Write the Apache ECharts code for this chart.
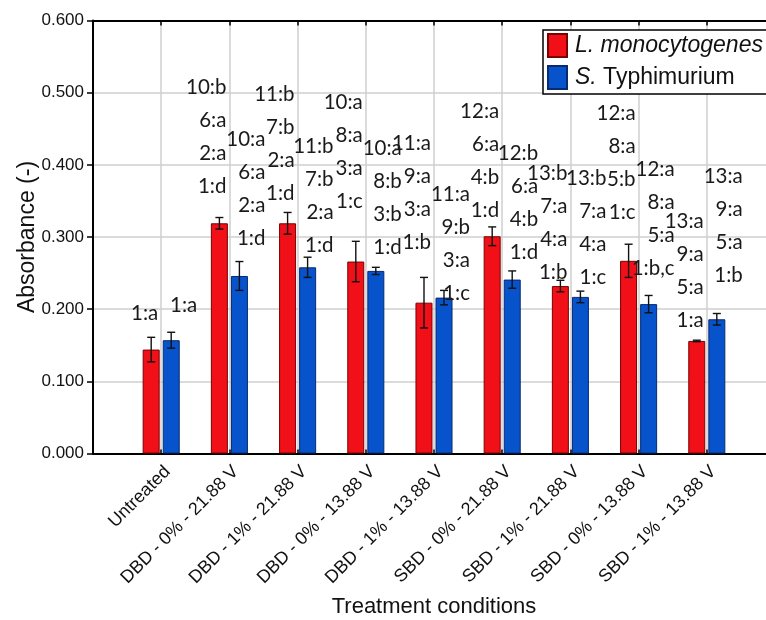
<!DOCTYPE html>
<html><head><meta charset="utf-8">
<script src="https://cdn.jsdelivr.net/npm/echarts@6.0.0/dist/echarts.min.js"></script>
<style>html,body{margin:0;padding:0;background:#fff}#c{width:766px;height:620px}</style>
</head><body><div id="c"></div>
<script>
// ---- data ----
const categories = ['Untreated', 'DBD - 0% - 21.88 V', 'DBD - 1% - 21.88 V', 'DBD - 0% - 13.88 V', 'DBD - 1% - 13.88 V',
  'SBD - 0% - 21.88 V', 'SBD - 1% - 21.88 V', 'SBD - 0% - 13.88 V', 'SBD - 1% - 13.88 V'];
const seriesNames = ['L. monocytogenes', 'S. Typhimurium'];
const listeria = [0.144, 0.319, 0.319, 0.266, 0.209, 0.301, 0.232, 0.267, 0.156];
const listeriaErr = [0.017, 0.008, 0.015, 0.028, 0.035, 0.013, 0.008, 0.023, 0.001];
const salmonella = [0.157, 0.246, 0.258, 0.253, 0.216, 0.241, 0.217, 0.207, 0.186];
const salmonellaErr = [0.011, 0.020, 0.014, 0.005, 0.010, 0.012, 0.008, 0.012, 0.008];
const listeriaLetters = ['1:a', '10:b\n6:a\n2:a\n1:d', '11:b\n7:b\n2:a\n1:d', '10:a\n8:a\n3:a\n1:c', '11:a\n9:a\n3:a\n1:b',
  '12:a\n6:a\n4:b\n1:d', '13:b\n7:a\n4:a\n1:b', '12:a\n8:a\n5:b\n1:c', '13:a\n9:a\n5:a\n1:a'];
const salmonellaLetters = ['1:a', '10:a\n6:a\n2:a\n1:d', '11:b\n7:b\n2:a\n1:d', '10:a\n8:b\n3:b\n1:d', '11:a\n9:b\n3:a\n1:c',
  '12:b\n6:a\n4:b\n1:d', '13:b\n7:a\n4:a\n1:c', '12:a\n8:a\n5:a\n1:b,c', '13:a\n9:a\n5:a\n1:b'];
// value level (y) of the lowest letter line of each annotation stack
const listeriaLetterLevel = [0.194, 0.370, 0.361, 0.350, 0.292, 0.337, 0.251, 0.334, 0.184];
const salmonellaLetterLevel = [0.205, 0.298, 0.288, 0.285, 0.222, 0.278, 0.244, 0.256, 0.247];
const yTicks = [0, 0.1, 0.2, 0.3, 0.4, 0.5, 0.6];

// ---- build ----
const RED = '#f10f18', BLUE = '#0653cb';
const AX = 'Liberation Sans, Arial, sans-serif';
const pos = categories.map((c, i) => i + 1);

function errSeries(vals, errs, dx) {
  return {
    type: 'custom', xAxisIndex: 0, yAxisIndex: 0, z: 5, silent: true,
    data: vals.map((v, i) => [pos[i], v - errs[i], v + errs[i]]),
    renderItem(params, api) {
      const lo = api.coord([api.value(0), api.value(1)]);
      const hi = api.coord([api.value(0), api.value(2)]);
      const cx = lo[0] + dx, hw = 4;
      const st = { stroke: '#111', lineWidth: 1.4 };
      return { type: 'group', children: [
        { type: 'line', shape: { x1: cx, y1: lo[1], x2: cx, y2: hi[1] }, style: st },
        { type: 'line', shape: { x1: cx - hw, y1: lo[1], x2: cx + hw, y2: lo[1] }, style: st },
        { type: 'line', shape: { x1: cx - hw, y1: hi[1], x2: cx + hw, y2: hi[1] }, style: st }
      ]};
    }
  };
}
function letterSeries(levels, texts, dx) {
  return {
    type: 'custom', xAxisIndex: 0, yAxisIndex: 0, z: 6, silent: true, clip: false,
    data: levels.map((v, i) => [pos[i], v]),
    renderItem(params, api) {
      const p = api.coord([api.value(0), api.value(1)]);
      return { type: 'text', x: p[0] + dx, y: p[1] + 16.5, style: {
        text: texts[params.dataIndex], align: 'right', verticalAlign: 'bottom',
        font: '20.5px Lato', lineHeight: 33, fill: '#1a1a1a' } };
    }
  };
}

const chart = echarts.init(document.getElementById('c'), null, { renderer: 'canvas' });
chart.setOption({
  animation: false,
  backgroundColor: '#fff',
  grid: { left: 93, top: 20.5, width: 682, height: 433, containLabel: false, outerBoundsMode: 'none' },
  legend: {
    data: seriesNames, left: 543, top: 30, orient: 'vertical', icon: 'rect',
    itemWidth: 19, itemHeight: 23, itemGap: 7, padding: [3, 20, 4, 4],
    borderColor: '#000', borderWidth: 1.5, backgroundColor: '#fff', z: 10,
    formatter: n => n === seriesNames[0] ? '{i|' + n + '}' : '{i|S.} Typhimurium',
    textStyle: { fontFamily: AX, fontSize: 23, color: '#111', padding: [0, 0, 0, 3],
      rich: { i: { fontStyle: 'italic', fontFamily: AX, fontSize: 23, color: '#111' } } }
  },
  xAxis: [{
    type: 'value', min: 0, max: 10, interval: 1, position: 'bottom',
    axisLine: { show: true, lineStyle: { color: '#000', width: 2 } },
    axisTick: { show: true, inside: true, length: 4, lineStyle: { color: '#000', width: 1.5 } },
    splitLine: { show: true, lineStyle: { color: '#cfcfcf', width: 1.5 } },
    axisLabel: { rotate: 45, margin: 9, verticalAlign: 'top', fontFamily: AX, fontSize: 18, color: '#111',
      formatter: v => (v >= 1 && v <= categories.length) ? categories[v - 1] : '' },
    name: 'Treatment conditions', nameLocation: 'middle', nameGap: 142, nameMoveOverlap: false,
    nameTextStyle: { fontFamily: AX, fontSize: 22, color: '#111' }
  }, {
    type: 'value', min: 0, max: 10, interval: 1, position: 'top',
    axisLine: { show: true, lineStyle: { color: '#000', width: 2 } },
    axisTick: { show: true, inside: true, length: 5, lineStyle: { color: '#000', width: 1.5 } },
    splitLine: { show: false }, axisLabel: { show: false }
  }],
  yAxis: {
    type: 'value', min: yTicks[0], max: yTicks[yTicks.length - 1], interval: 0.1,
    axisLine: { show: true, lineStyle: { color: '#000', width: 2 } },
    axisTick: { show: true, inside: false, length: 6, lineStyle: { color: '#000', width: 1.5 } },
    splitLine: { show: true, lineStyle: { color: '#cfcfcf', width: 1.5 } },
    axisLabel: { margin: 9, fontFamily: AX, fontSize: 17, color: '#111', formatter: v => v.toFixed(3) },
    name: 'Absorbance (-)', nameLocation: 'middle', nameGap: 54, nameMoveOverlap: false,
    nameTextStyle: { fontFamily: AX, fontSize: 23, color: '#111' }
  },
  series: [
    { name: seriesNames[0], type: 'bar', xAxisIndex: 0, barWidth: 17, barGap: '18%',
      itemStyle: { color: RED, borderColor: '#7a0000', borderWidth: 1 },
      data: listeria.map((v, i) => [pos[i], v]) },
    { name: seriesNames[1], type: 'bar', xAxisIndex: 0, barWidth: 17, barGap: '18%',
      itemStyle: { color: BLUE, borderColor: '#0a2a70', borderWidth: 1 },
      data: salmonella.map((v, i) => [pos[i], v]) },
    errSeries(listeria, listeriaErr, -10),
    errSeries(salmonella, salmonellaErr, 10),
    letterSeries(listeriaLetterLevel, listeriaLetters, -3),
    letterSeries(salmonellaLetterLevel, salmonellaLetters, 36)
  ]
});
</script></body></html>
